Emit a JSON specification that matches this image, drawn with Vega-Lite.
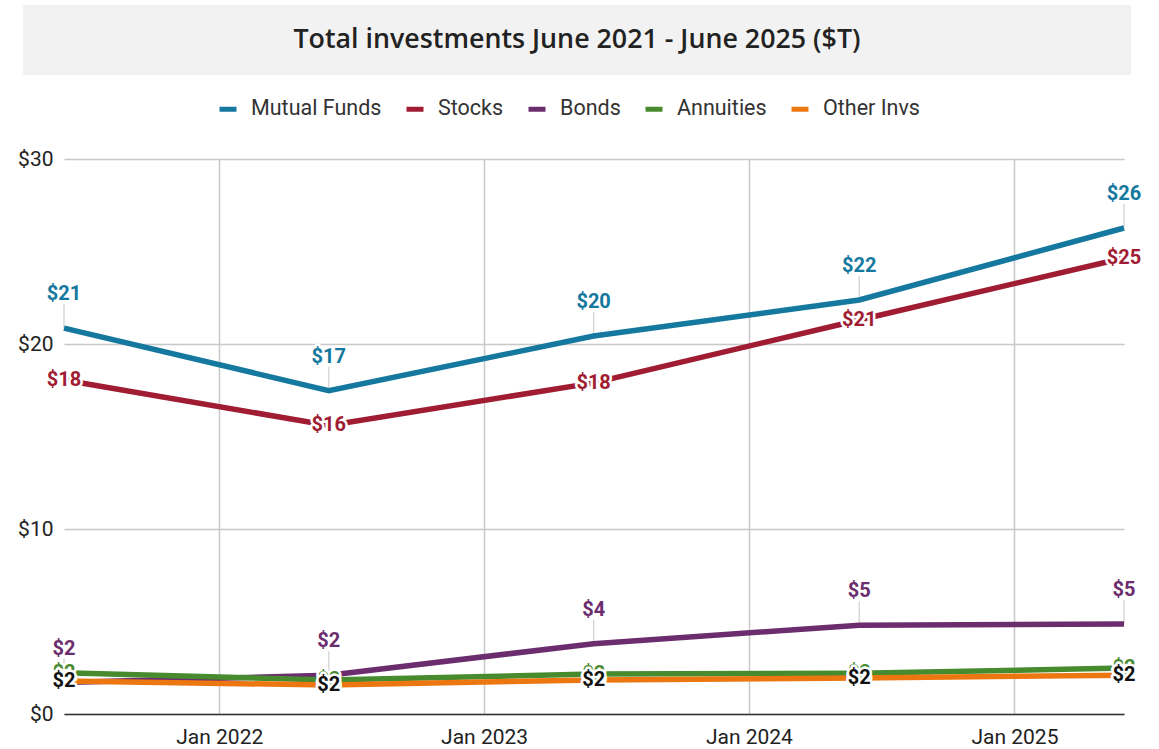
{
  "$schema": "https://vega.github.io/schema/vega-lite/v6.json",
  "padding": {"left": 17, "top": 5, "right": 0, "bottom": 0},
  "background": "white",
  "config": {"view": {"stroke": null}, "font": "Roboto"},
  "datasets": {
    "inv": [
      {"d": "2021-06-01T00:00:00", "s": "Mutual Funds", "v": 20.86},
      {"d": "2022-06-01T00:00:00", "s": "Mutual Funds", "v": 17.48},
      {"d": "2023-06-01T00:00:00", "s": "Mutual Funds", "v": 20.43},
      {"d": "2024-06-01T00:00:00", "s": "Mutual Funds", "v": 22.38},
      {"d": "2025-06-01T00:00:00", "s": "Mutual Funds", "v": 26.27},
      {"d": "2021-06-01T00:00:00", "s": "Stocks", "v": 18.05},
      {"d": "2022-06-01T00:00:00", "s": "Stocks", "v": 15.6},
      {"d": "2023-06-01T00:00:00", "s": "Stocks", "v": 17.9},
      {"d": "2024-06-01T00:00:00", "s": "Stocks", "v": 21.3},
      {"d": "2025-06-01T00:00:00", "s": "Stocks", "v": 24.65},
      {"d": "2021-06-01T00:00:00", "s": "Bonds", "v": 1.7},
      {"d": "2022-06-01T00:00:00", "s": "Bonds", "v": 2.1},
      {"d": "2023-06-01T00:00:00", "s": "Bonds", "v": 3.8},
      {"d": "2024-06-01T00:00:00", "s": "Bonds", "v": 4.8},
      {"d": "2025-06-01T00:00:00", "s": "Bonds", "v": 4.86},
      {"d": "2021-06-01T00:00:00", "s": "Annuities", "v": 2.23},
      {"d": "2022-06-01T00:00:00", "s": "Annuities", "v": 1.84},
      {"d": "2023-06-01T00:00:00", "s": "Annuities", "v": 2.16},
      {"d": "2024-06-01T00:00:00", "s": "Annuities", "v": 2.2},
      {"d": "2025-06-01T00:00:00", "s": "Annuities", "v": 2.48},
      {"d": "2021-06-01T00:00:00", "s": "Other Invs", "v": 1.78},
      {"d": "2022-06-01T00:00:00", "s": "Other Invs", "v": 1.57},
      {"d": "2023-06-01T00:00:00", "s": "Other Invs", "v": 1.84},
      {"d": "2024-06-01T00:00:00", "s": "Other Invs", "v": 1.95},
      {"d": "2025-06-01T00:00:00", "s": "Other Invs", "v": 2.1}
    ]
  },
  "spacing": 73,
  "vconcat": [
    {
      "width": 1108,
      "height": 70,
      "view": {"fill": "#f2f2f2", "stroke": null},
      "data": {"values": [{"t": "Total investments June 2021 - June 2025 ($T)"}]},
      "mark": {"type": "text", "font": "Open Sans", "fontSize": 26.8, "fontWeight": 600, "color": "#222222"},
      "encoding": {"text": {"field": "t", "type": "nominal"}}
    },
    {
      "spacing": 40,
      "bounds": "flush",
      "hconcat": [
        {
          "width": 1,
          "height": 1,
          "view": {"stroke": null},
          "data": {"values": [{"k": 1}]},
          "mark": {"type": "point", "opacity": 0, "size": 0}
        },
        {
          "width": 1060,
          "height": 555,
          "data": {"name": "inv"},
          "encoding": {
            "x": {
              "field": "d",
              "type": "temporal",
              "scale": {"domain": [{"year": 2021, "month": 6, "date": 1}, {"year": 2025, "month": 6, "date": 1}]},
              "axis": {
                "title": null,
                "values": [{"year": 2022, "month": 1, "date": 1}, {"year": 2023, "month": 1, "date": 1}, {"year": 2024, "month": 1, "date": 1}, {"year": 2025, "month": 1, "date": 1}],
                "format": "%b %Y",
                "ticks": false,
                "grid": true,
                "gridColor": "#c8c8c8",
                "gridWidth": 1.5,
                "domainColor": "#333333",
                "domainWidth": 1.5,
                "labelFont": "Roboto",
                "labelFontSize": 21,
                "labelColor": "#222222",
                "labelPadding": 12,
                "labelFlush": false
              }
            },
            "y": {
              "field": "v",
              "type": "quantitative",
              "scale": {"domain": [0, 30], "nice": false},
              "axis": {
                "title": null,
                "values": [0, 10, 20, 30],
                "format": "$.0f",
                "ticks": false,
                "domain": false,
                "grid": true,
                "gridColor": "#c8c8c8",
                "gridWidth": 1.5,
                "labelFont": "Roboto",
                "labelFontSize": 21,
                "labelColor": "#222222",
                "labelPadding": 11,
                "labelFlush": false
              }
            }
          },
          "layer": [
            {
              "transform": [{"filter": "datum.s === 'Mutual Funds' || datum.s === 'Bonds'"}],
              "mark": {"type": "rule", "color": "#cfcfcf", "strokeWidth": 1.2, "y2Offset": -24},
              "encoding": {"y2": {"field": "v"}}
            },
            {
              "mark": {"type": "line", "strokeWidth": 5.5},
              "encoding": {
                "color": {
                  "field": "s",
                  "type": "nominal",
                  "scale": {
                    "domain": ["Mutual Funds", "Stocks", "Bonds", "Annuities", "Other Invs"],
                    "range": ["#15789f", "#a01c33", "#6b2d6d", "#478b2e", "#ec7710"]
                  },
                  "legend": {
                    "title": null,
                    "orient": "none",
                    "direction": "horizontal",
                    "legendX": 194,
                    "legendY": 93,
                    "symbolType": "stroke",
                    "symbolSize": 289,
                    "symbolStrokeWidth": 5,
                    "labelFont": "Roboto",
                    "labelFontSize": 21.5,
                    "labelColor": "#333333",
                    "labelOffset": 12,
                    "columnPadding": 14
                  }
                }
              }
            },
            {
              "transform": [{"filter": "datum.s === 'Mutual Funds' || datum.s === 'Bonds'"}],
              "mark": {"type": "text", "font": "Roboto", "fontSize": 20, "fontWeight": "bold", "dy": -34, "color": "white", "stroke": "white", "strokeWidth": 5, "strokeJoin": "round"},
              "encoding": {"text": {"field": "v", "type": "quantitative", "format": "$.0f"}}
            },
            {
              "transform": [{"filter": "datum.s === 'Mutual Funds' || datum.s === 'Bonds'"}],
              "mark": {"type": "text", "font": "Roboto", "fontSize": 20, "fontWeight": "bold", "dy": -34},
              "encoding": {
                "text": {"field": "v", "type": "quantitative", "format": "$.0f"},
                "fill": {
                  "field": "s",
                  "type": "nominal",
                  "scale": {
                    "domain": ["Mutual Funds", "Stocks", "Bonds", "Annuities", "Other Invs"],
                    "range": ["#15789f", "#a01c33", "#6b2d6d", "#478b2e", "#111111"]
                  },
                  "legend": null
                }
              }
            },
            {
              "transform": [{"filter": "datum.s === 'Stocks' || datum.s === 'Annuities'"}],
              "mark": {"type": "text", "font": "Roboto", "fontSize": 20, "fontWeight": "bold", "color": "white", "stroke": "white", "strokeWidth": 5, "strokeJoin": "round"},
              "encoding": {"text": {"field": "v", "type": "quantitative", "format": "$.0f"}}
            },
            {
              "transform": [{"filter": "datum.s === 'Stocks' || datum.s === 'Annuities'"}],
              "mark": {"type": "text", "font": "Roboto", "fontSize": 20, "fontWeight": "bold"},
              "encoding": {
                "text": {"field": "v", "type": "quantitative", "format": "$.0f"},
                "fill": {"field": "s", "type": "nominal", "legend": null}
              }
            },
            {
              "transform": [{"filter": "datum.s === 'Other Invs'"}],
              "mark": {"type": "text", "font": "Roboto", "fontSize": 20, "fontWeight": "bold", "color": "white", "stroke": "white", "strokeWidth": 5, "strokeJoin": "round"},
              "encoding": {"text": {"field": "v", "type": "quantitative", "format": "$.0f"}}
            },
            {
              "transform": [{"filter": "datum.s === 'Other Invs'"}],
              "mark": {"type": "text", "font": "Roboto", "fontSize": 20, "fontWeight": "bold"},
              "encoding": {
                "text": {"field": "v", "type": "quantitative", "format": "$.0f"},
                "fill": {"field": "s", "type": "nominal", "legend": null}
              }
            }
          ]
        }
      ]
    }
  ]
}
